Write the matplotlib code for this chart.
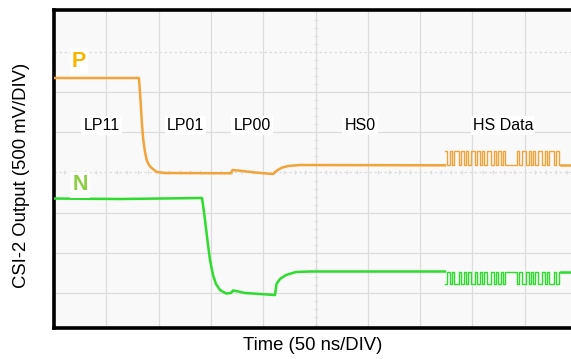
"""
MIPI CSI-2 lane P/N waveforms (LP -> HS transition), scope-style plot.
Units: x in divisions (50 ns/DIV), y in divisions (500 mV/DIV).
"""
import numpy as np
import matplotlib
matplotlib.use('Agg')
import matplotlib.pyplot as plt

plt.rcParams['font.family'] = ['Liberation Sans', 'DejaVu Sans']

# P trace
p_x = [0.0, 1.625, 1.654, 1.683, 1.707, 1.740, 1.772, 1.816, 1.868, 1.964, 2.122,
       3.384, 3.413, 3.556, 3.843, 4.187, 4.258, 4.354, 4.480, 4.704, 7.476]
p_y = [5.352, 5.352, 4.805, 4.182, 3.809, 3.510, 3.311, 3.187, 3.112, 3.012, 2.988,
       2.980, 3.062, 3.045, 3.000, 2.962, 3.045, 3.119, 3.162, 3.186, 3.179]

# N trace
n_x = [0.0, 1.262, 2.830, 2.868, 2.906, 2.945, 2.983, 3.040, 3.098, 3.174, 3.289,
       3.384, 3.423, 3.480, 3.652, 3.939, 4.226, 4.254, 4.321, 4.436, 4.627, 4.895, 7.476]
n_y = [2.352, 2.340, 2.365, 2.016, 1.618, 1.195, 0.822, 0.448, 0.224, 0.075, -0.012,
       0.000, 0.062, 0.050, 0.000, -0.025, -0.050, 0.224, 0.349, 0.448, 0.523, 0.535, 0.535]

# HS data burst
hs_start, hs_end = 7.476, 9.694
hs_bits = [1, 0, 1, 0, 1, 1, 0, 1, 0, 1, 0, 1, 1, 0, 1, 0, 1, 0, 1, 1, 0, 1,
           0, 1, 0, 1, 0,
           0, 0, 0, 0,
           1, 0, 1, 1, 0, 1, 0, 1, 0, 1, 1, 0, 1, 0, 1, 1,
           0, 1, 0]
p_hs_low, p_hs_high = 3.179, 3.535
n_hs_high, n_hs_low = 0.535, 0.236

states = ['LP11', 'LP01', 'LP00', 'HS0', 'HS Data']
state_x = [0.906, 2.514, 3.786, 5.851, 8.585]
state_y = 4.18

P_COLOR = '#f2a33a'
N_COLOR = '#2ddc2d'

fig = plt.figure(figsize=(5.71, 3.59), dpi=100)
W, H = 571, 359
left, right, top, bottom = 54, 577, 10, 328
ax = fig.add_axes([left / W, 1 - bottom / H, (right - left) / W, (bottom - top) / H])
ax.set_facecolor('#f8f9f8')

ax.set_xlim(0, 10)
ax.set_ylim(-(bottom - 293) / 40.17, 6 + (52 - top) / 40.17)

# graticule
for gx in range(1, 10):
    ax.axvline(gx, color='#dcdcdc', lw=0.9, zorder=0)
for gy in range(0, 7):
    ls = (0, (2, 2)) if gy in (3, 6) else '-'
    ax.axhline(gy, color='#dcdcdc', lw=0.9, ls=ls, zorder=0)
minor = np.arange(0, 10.01, 0.2)
ax.plot(minor, np.full_like(minor, 3), ls='none', marker='|', ms=3, color='#e0e0e0', zorder=0)
minor_y = np.arange(-0.8, 7.0, 0.2)
ax.plot(np.full_like(minor_y, 5), minor_y, ls='none', marker='_', ms=3, color='#e0e0e0', zorder=0)

# HS burst as steps
bit_t = np.linspace(hs_start, hs_end, len(hs_bits) + 1)
bits = np.array(hs_bits + [0])
p_burst = np.where(bits == 1, p_hs_high, p_hs_low)
n_burst = np.where(bits == 1, n_hs_low, n_hs_high)

ax.plot(p_x, p_y, color=P_COLOR, lw=1.8, zorder=3)
ax.step(bit_t, p_burst, where='post', color=P_COLOR, lw=1.0, zorder=3)
ax.plot([hs_end, 10], [p_hs_low, p_hs_low], color=P_COLOR, lw=1.8, zorder=3)

ax.plot(n_x, n_y, color=N_COLOR, lw=1.8, zorder=3)
ax.step(bit_t, n_burst, where='post', color=N_COLOR, lw=1.0, zorder=3)
ax.plot([hs_end, 10], [n_hs_high, n_hs_high], color=N_COLOR, lw=1.8, zorder=3)

# labels
box = dict(facecolor='white', edgecolor='none', pad=1.5)
ax.text(0.478, 5.775, 'P', color='#f7b500', fontsize=15.5, fontweight='bold',
        ha='center', va='center', bbox=box, zorder=4)
ax.text(0.497, 2.689, 'N', color='#8ccf45', fontsize=15.5, fontweight='bold',
        ha='center', va='center', bbox=box, zorder=4)
for name, sx in zip(states, state_x):
    ax.text(sx, state_y, name, fontsize=11.5, ha='center', va='center',
            bbox=box, zorder=4)

ax.set_xticks([])
ax.set_yticks([])
for side in ('top', 'left', 'bottom'):
    ax.spines[side].set_linewidth(2.6)
    ax.spines[side].set_color('black')
ax.spines['right'].set_visible(False)

fig.text(313 / W, 1 - 346 / H, 'Time (50 ns/DIV)', fontsize=13.3, ha='center', va='center')
fig.text(22 / W, 1 - 175 / H, 'CSI-2 Output (500 mV/DIV)', fontsize=13.3,
         ha='center', va='center', rotation=90)

fig.savefig('out.png', dpi=100)
